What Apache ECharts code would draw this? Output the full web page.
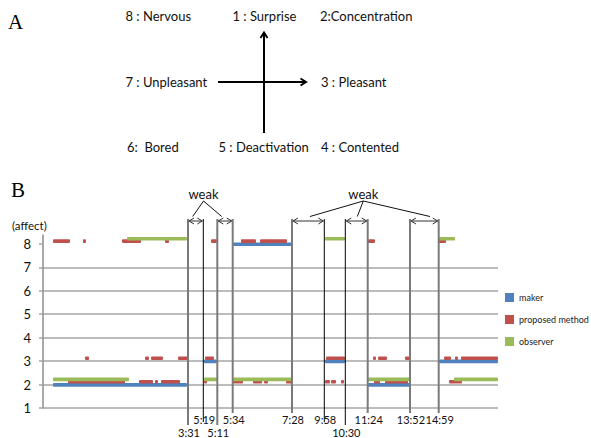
<!DOCTYPE html>
<html><head><meta charset="utf-8">
<script src="https://cdn.jsdelivr.net/npm/echarts@6/dist/echarts.min.js"></script>
<style>html,body{margin:0;padding:0;background:#fff}#c{width:591px;height:438px}</style>
</head><body><div id="c"></div>
<script>
// ---- data ----
var yTicks = [1, 2, 3, 4, 5, 6, 7, 8];
// segments: [start, end, affect level]  (x in timeline units)
var makerSegments = [[190, 249, 8], [161, 174, 3], [282, 302, 3], [396, 455, 3], [10, 144, 2], [325, 367, 2]];
var proposedSegments = [
  [10, 27, 8], [40, 43, 8], [79, 98, 8], [122, 126, 8], [168, 174, 8], [198, 213, 8], [217, 244, 8], [325, 332, 8], [395, 403, 8],
  [42, 46, 3], [102, 106, 3], [108, 120, 3], [135, 145, 3], [162, 171, 3], [283, 302, 3], [330, 333, 3], [335, 344, 3], [362, 367, 3], [401, 408, 3], [412, 415, 3], [418, 455, 3],
  [25, 82, 2], [96, 110, 2], [112, 115, 2], [118, 137, 2], [161, 164, 2], [190, 200, 2], [210, 219, 2], [221, 225, 2], [243, 249, 2], [282, 287, 2], [288, 293, 2], [298, 301, 2], [331, 337, 2], [342, 365, 2], [406, 419, 2]
];
var observerSegments = [[84, 144, 8], [282, 302, 8], [396, 412, 8], [10, 86, 2], [161, 174, 2], [190, 249, 2], [325, 367, 2], [411, 455, 2]];
var seriesNames = ['maker', 'proposed method', 'observer'];

var markerX = [145, 160.3, 174.3, 189.7, 249, 281.3, 302.3, 324.7, 367, 395.7];
var markerLabels = ['3:31', '5:19', '5:11', '5:34', '7:28', '9:58', '10:30', '11:24', '13:52', '14:59'];
var markerRow = [2, 1, 2, 1, 1, 1, 2, 1, 1, 1];
var markerDark = [0, 1, 0, 0, 0, 1, 1, 0, 0, 0];
var arrowPairs = [[0, 1], [2, 3], [4, 5], [6, 7], [8, 9]];
var weakX = [160.5, 320.3];
var weakTargets = [[149.7, 178.7], [267, 314.3, 387]];

var panelALabels = ['8 : Nervous', '1 : Surprise', '2:Concentration', '7 : Unpleasant', '3 : Pleasant', '6:  Bored', '5 : Deactivation', '4 : Contented'];

// ---- layout / style ----
var FONT = 'Lato, "Open Sans", sans-serif';
var Y_MIN = 1, Y_MAX = 8.38, X_MAX = 455;
var colors = ['#4F81BD', '#C0504D', '#9BBB59'];
var offsets = [0.3, -2.8, -5.2];
var panelAPos = [[125.5, 16], [232.5, 16], [320, 16], [125.5, 82], [321, 82], [127, 147], [218.5, 147], [321, 147]];

function segRender(off) {
  return function (params, api) {
    var s = api.coord([api.value(0), api.value(2)]);
    var e = api.coord([api.value(1), api.value(2)]);
    var h = 3.6;
    return {
      type: 'rect',
      shape: { x: s[0], y: s[1] + off - h / 2, width: e[0] - s[0], height: h, r: 1 },
      style: { fill: api.visual('color') }
    };
  };
}

function segSeries(i, data) {
  return {
    name: seriesNames[i], type: 'custom', data: data,
    encode: { x: [0, 1], y: 2 },
    itemStyle: { color: colors[i] },
    renderItem: segRender(offsets[i]), silent: true
  };
}

var markerData = markerX.map(function (x, i) { return [x, markerRow[i], markerDark[i]]; });
var arrowData = arrowPairs.map(function (p) { return [markerX[p[0]], markerX[p[1]]]; });
var weakData = weakX.map(function (x) { return [x, Y_MAX]; });

var series = [
  segSeries(0, makerSegments),
  segSeries(1, proposedSegments),
  segSeries(2, observerSegments),
  {
    type: 'custom', data: markerData, clip: false, silent: true, encode: { x: 0, y: 1 },
    renderItem: function (params, api) {
      var x = api.value(0), row = api.value(1), dark = api.value(2);
      var pb = api.coord([x, Y_MIN]);
      var pt = api.coord([x, Y_MAX]);
      var top = pt[1] - 16;
      var bottom = pb[1] + (row === 1 ? (dark ? 14 : 5) : 17);
      return {
        type: 'group', children: [
          { type: 'line', shape: { x1: pb[0], y1: top, x2: pb[0], y2: bottom },
            style: { stroke: dark ? '#000' : '#7a7a7a', lineWidth: dark ? 1 : 2 } },
          { type: 'text', x: pb[0] + 1, y: pb[1] + (row === 1 ? 11 : 24),
            style: { text: markerLabels[params.dataIndex], font: '11px ' + FONT, fill: '#111', align: 'center', verticalAlign: 'middle' } }
        ]
      };
    }
  },
  {
    type: 'custom', data: arrowData, clip: false, silent: true, encode: { x: [0, 1] },
    renderItem: function (params, api) {
      var a = api.coord([api.value(0), Y_MAX]);
      var b = api.coord([api.value(1), Y_MAX]);
      var y = a[1] - 14;
      var x0 = a[0] + 1, x1 = b[0] - 1;
      var st = { stroke: '#333', lineWidth: 1, fill: null };
      return {
        type: 'group', children: [
          { type: 'line', shape: { x1: x0, y1: y, x2: x1, y2: y }, style: st },
          { type: 'polyline', shape: { points: [[x0 + 5, y - 3], [x0, y], [x0 + 5, y + 3]] }, style: st },
          { type: 'polyline', shape: { points: [[x1 - 5, y - 3], [x1, y], [x1 - 5, y + 3]] }, style: st }
        ]
      };
    }
  },
  {
    type: 'custom', data: weakData, clip: false, silent: true, encode: { x: 0, y: 1 },
    renderItem: function (params, api) {
      var p = api.coord([api.value(0), api.value(1)]);
      var children = [
        { type: 'text', x: p[0], y: p[1] - 41,
          style: { text: 'weak', font: '13px ' + FONT, fill: '#111', align: 'center', verticalAlign: 'middle' } }
      ];
      weakTargets[params.dataIndex].forEach(function (tx) {
        var q = api.coord([tx, Y_MAX]);
        children.push({ type: 'line', shape: { x1: p[0], y1: p[1] - 34, x2: q[0], y2: p[1] - 18.5 },
          style: { stroke: '#111', lineWidth: 1 } });
      });
      return { type: 'group', children: children };
    }
  }
];

var graphics = [
  { type: 'text', x: 8, y: 22, style: { text: 'A', font: '21px "Liberation Serif", "DejaVu Serif", serif', fill: '#000', verticalAlign: 'middle' } },
  { type: 'text', x: 11, y: 189.5, style: { text: 'B', font: '21px "Liberation Serif", "DejaVu Serif", serif', fill: '#000', verticalAlign: 'middle' } },
  { type: 'text', x: 12, y: 225, style: { text: '(affect)', font: '11.5px ' + FONT, fill: '#111', verticalAlign: 'middle' } },
  { type: 'line', shape: { x1: 264, y1: 133, x2: 264, y2: 33 }, style: { stroke: '#000', lineWidth: 2 } },
  { type: 'polyline', shape: { points: [[260.5, 38], [264, 32.5], [267.5, 38]] }, style: { stroke: '#000', lineWidth: 2, fill: null } },
  { type: 'line', shape: { x1: 218, y1: 82, x2: 305, y2: 82 }, style: { stroke: '#000', lineWidth: 2 } },
  { type: 'polyline', shape: { points: [[300.5, 78.5], [306, 82], [300.5, 85.5]] }, style: { stroke: '#000', lineWidth: 2, fill: null } }
];
panelALabels.forEach(function (t, i) {
  graphics.push({ type: 'text', x: panelAPos[i][0], y: panelAPos[i][1],
    style: { text: t, font: '13px ' + FONT, fill: '#111', verticalAlign: 'middle' } });
});

var chart = echarts.init(document.getElementById('c'), null, { renderer: 'svg' });
chart.setOption({
  animation: false,
  backgroundColor: '#fff',
  grid: { left: 43, right: 93, top: 235, bottom: 30, containLabel: false },
  xAxis: { type: 'value', min: 0, max: X_MAX, show: false },
  yAxis: {
    type: 'value', min: Y_MIN, max: Y_MAX, interval: 1,
    axisLine: { show: true, lineStyle: { color: '#8c8c8c', width: 1.5 } },
    axisTick: { show: true, length: 4, customValues: yTicks, lineStyle: { color: '#a6a6a6', width: 1.5 } },
    axisLabel: { customValues: yTicks, margin: 12, fontSize: 13, color: '#111', fontFamily: FONT },
    splitLine: { show: true, showMaxLine: false, lineStyle: { color: '#a6a6a6', width: 1.5 } }
  },
  legend: {
    orient: 'vertical', left: 500, top: 288, itemGap: 13, itemWidth: 9, itemHeight: 9,
    icon: 'rect', data: seriesNames, selectedMode: false,
    textStyle: { fontSize: 9, color: '#222', fontFamily: FONT }
  },
  graphic: graphics,
  series: series
});
</script></body></html>
